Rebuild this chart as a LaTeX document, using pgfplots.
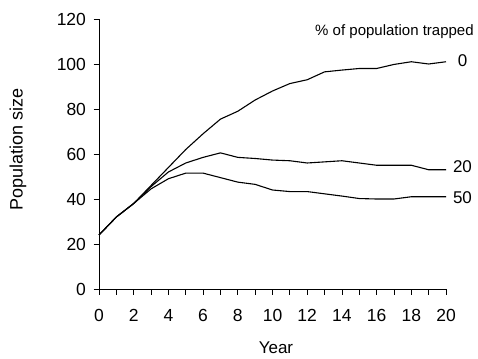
\documentclass[border=0pt]{standalone}
\usepackage{pgfplots}
\pgfplotsset{compat=1.18}
\usepackage{fontspec}
\setmainfont{Liberation Sans}
\begin{document}
\begin{tikzpicture}
\useasboundingbox (0,0) rectangle (478pt,358pt);
\begin{axis}[
  at={(99pt,69pt)}, anchor=south west,
  scale only axis, width=347pt, height=270pt,
  xmin=0, xmax=20, ymin=0, ymax=120,
  axis lines=left, axis line style={-, line width=0.8pt},
  xtick={0,2,...,20}, minor xtick={1,3,...,19},
  ytick={0,20,...,120},
  tick align=outside, major tick length=5.5pt, minor tick length=5.5pt,
  tick style={black, line width=0.8pt},
  /pgf/number format/assume math mode=true,
  tick label style={font=\fontsize{17.5}{17.5}\selectfont},
  xticklabel style={yshift=-11pt},
  yticklabel style={xshift=-4pt},
  clip=false,
]
\addplot[black, line width=1.1pt] coordinates {
(0,24)(1,32)(2,38)(3,46)(4,54)(5,62)(6,69)(7,75.5)(8,79)(9,84)(10,88)
(11,91.3)(12,93)(13,96.5)(14,97.3)(15,98)(16,98)(17,99.8)(18,101)(19,100)(20,101)};
\addplot[black, line width=1.1pt] coordinates {
(0,24)(1,32)(2,38)(3,45.5)(4,52)(5,56)(6,58.5)(7,60.5)(8,58.5)(9,58)(10,57.3)
(11,57)(12,56)(13,56.5)(14,57)(15,56)(16,55)(17,55)(18,55)(19,53)(20,53)};
\addplot[black, line width=1.1pt] coordinates {
(0,24)(1,32)(2,38)(3,44.5)(4,49)(5,51.5)(6,51.5)(7,49.5)(8,47.5)(9,46.5)(10,44)
(11,43.3)(12,43.3)(13,42.3)(14,41.3)(15,40.2)(16,40)(17,40)(18,41)(19,41)(20,41)};
\node[anchor=east, font=\fontsize{15}{15}\selectfont] at (axis cs:21.8,114.2) {\% of population trapped};
\node[font=\fontsize{17}{17}\selectfont] at (axis cs:20.95,101.3) {0};
\node[font=\fontsize{17}{17}\selectfont] at (axis cs:20.95,54.2) {20};
\node[font=\fontsize{17}{17}\selectfont] at (axis cs:20.95,40.4) {50};
\node[rotate=90, font=\fontsize{18}{18}\selectfont] at (axis cs:-4.67,61.8) {Population size};
\node[font=\fontsize{17}{17}\selectfont] at (axis cs:10.2,-26.2) {Year};
\end{axis}
\end{tikzpicture}
\end{document}
